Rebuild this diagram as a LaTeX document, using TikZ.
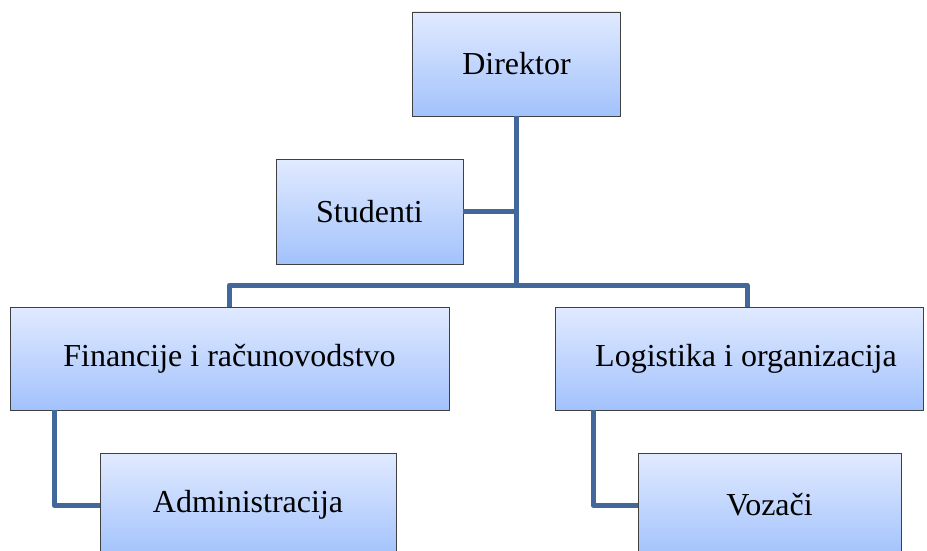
\documentclass[tikz,border=0pt]{standalone}
\usepackage{fontspec}
\setmainfont{Liberation Serif}
\definecolor{boxtop}{RGB}{225,234,255}
\definecolor{boxbot}{RGB}{162,194,252}
\definecolor{boxline}{RGB}{64,64,64}
\definecolor{connline}{RGB}{66,104,155}
\begin{document}
\begin{tikzpicture}[x=1pt,y=-1pt,
  box/.style={draw=boxline, line width=0.9pt, top color=boxtop, bottom color=boxbot,
    rectangle, inner sep=0pt, font=\fontsize{32}{38}\selectfont},
  conn/.style={draw=connline, line width=5pt, line join=round}]
\useasboundingbox (0,0) rectangle (927,551);
\clip (0,0) rectangle (927,551);
\node[box, minimum width=208pt, minimum height=104pt] (dir) at (516.5,64) {Direktor};
\node[box, minimum width=187pt, minimum height=105pt] (stud) at (369.5,211.5) {Studenti};
\node[box, minimum width=439pt, minimum height=103pt] (fin) at (229.5,358.5) {Financije i računovodstvo};
\node[box, minimum width=368pt, minimum height=103pt,
  label={[font=\fontsize{32}{38}\selectfont, xshift=7pt]center:Logistika i organizacija}] (log) at (739,358.5) {};
\node[box, minimum width=296pt, minimum height=104pt] (adm) at (248,505) {Administracija};
\node[box, minimum width=263pt, minimum height=104pt] (voz) at (769.5,505) {Vozači};
\coordinate (j) at (516,285);
\coordinate (lc) at (747,0);
\coordinate (fl) at (54,0);
\coordinate (rl) at (593,0);
\draw[conn] (dir.south -| j) -- (j);
\draw[conn] (stud.east) -- (stud.east -| j);
\draw[conn] (fin.north) |- (j) -| (log.north -| lc);
\draw[conn] (fin.south -| fl) |- (adm.west);
\draw[conn] (log.south -| rl) |- (voz.west);
\end{tikzpicture}
\end{document}
